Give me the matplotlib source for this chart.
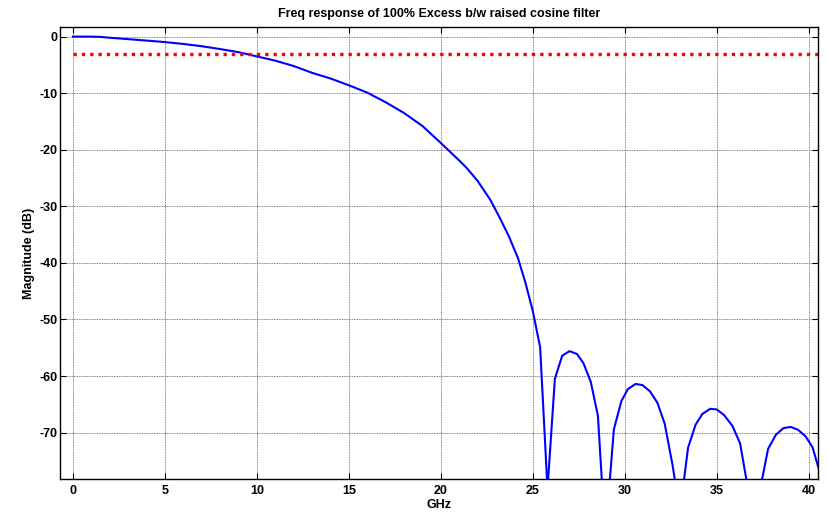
import matplotlib.pyplot as plt

# Magnitude response of the raised cosine filter, values in dB vs GHz
freq_ghz = [0, 1, 1.5, 2, 3, 4, 5, 6, 7, 8, 9, 10, 11, 12, 13, 14, 15, 16, 17,
            18, 19, 20, 21, 21.4, 22, 22.7, 23.2, 23.7, 24.2, 24.6, 25.0, 25.4,
            25.8, 26.2, 26.6, 27.0, 27.4, 27.75, 28.15, 28.54, 28.94,
            29.41, 29.82, 30.17, 30.59, 30.96, 31.37, 31.77, 32.17, 32.59, 33.0,
            33.44, 33.85, 34.22, 34.64, 35.0, 35.4, 35.85, 36.27, 36.65, 37.05,
            37.42, 37.79, 38.21, 38.63, 39.03, 39.42, 39.84, 40.21, 40.6]
mag_db = [0, 0, -0.05, -0.2, -0.45, -0.7, -0.97, -1.3, -1.7, -2.2, -2.75, -3.5,
          -4.25, -5.2, -6.4, -7.4, -8.6, -9.9, -11.6, -13.5, -15.8, -18.8, -21.9,
          -23.2, -25.5, -28.9, -32.0, -35.3, -39.2, -43.5, -48.5, -54.9,
          -80, -60.5, -56.4, -55.6, -56.1, -57.7, -61.0, -67.0, -88.4,
          -69.4, -64.4, -62.3, -61.4, -61.6, -62.7, -64.7, -68.4, -75.6, -84,
          -72.7, -68.6, -66.7, -65.8, -65.9, -66.9, -68.8, -71.9, -79, -95,
          -79, -72.9, -70.4, -69.2, -69.0, -69.5, -70.7, -72.6, -77]

# -3 dB reference level
ref_x = [0, 40.5]
ref_db = [-3, -3]

plt.rcParams['font.family'] = ['Liberation Sans', 'DejaVu Sans']
plt.rcParams['font.weight'] = 'bold'
plt.rcParams['axes.unicode_minus'] = False

fig = plt.figure(figsize=(8.27, 5.16), dpi=100)
ax = fig.add_axes([0.0726, 0.0717, 0.9164, 0.876])

ax.plot(freq_ghz, mag_db, color='#0000ff', linewidth=1.5)
ax.plot(ref_x, ref_db, color='#ff0000', linewidth=2.4,
        linestyle=(0, (1, 1.5)), dash_capstyle='butt')

ax.set_xlim(-0.7, 40.5)
ax.set_ylim(-78.2, 1.7)
ax.set_xticks(range(0, 41, 5))
ax.set_yticks(range(-70, 1, 10))

ax.grid(True, color='#555555', linestyle=(0, (1, 1)), linewidth=0.6)
ax.tick_params(direction='in', top=True, right=True, length=4, width=0.8,
               labelsize=9, pad=4)
ax.tick_params(axis='y', pad=2)
for label in ax.get_xticklabels() + ax.get_yticklabels():
    label.set_fontweight('bold')
for spine in ax.spines.values():
    spine.set_linewidth(1.0)

ax.set_title('Freq response of 100% Excess b/w raised cosine filter',
             fontsize=9, fontweight='bold', pad=7)
ax.set_xlabel('GHz', fontsize=9, fontweight='bold', labelpad=2)
ax.set_ylabel('Magnitude (dB)', fontsize=9, fontweight='bold', labelpad=3)

plt.savefig('out.png', dpi=100)
